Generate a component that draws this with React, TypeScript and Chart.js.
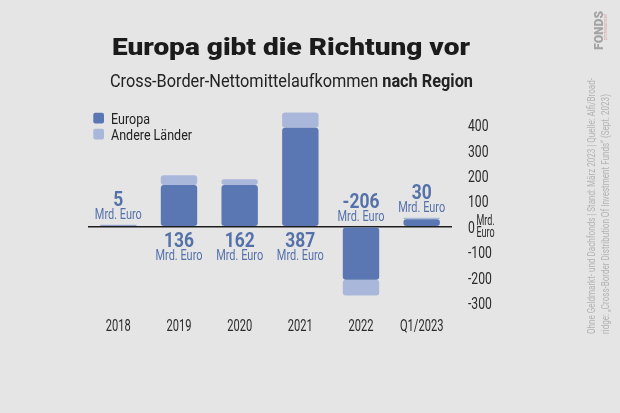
import React, { useEffect, useRef } from "react";
import { Chart, registerables } from "chart.js";

Chart.register(...registerables);

// ---- data ----
const categories = ["2018", "2019", "2020", "2021", "2022", "Q1/2023"];
const europa = [5, 165, 165, 390, -208, 30];
const andere = [3, 38, 22, 60, -62, 6];
const totalLabels = [5, 136, 162, 387, -206, 30];
const yTicks = [-300, -200, -100, 0, 100, 200, 300, 400];
const legendLabels = ["Europa", "Andere Länder"];
const titleText = "Europa gibt die Richtung vor";
const subtitleRegular = "Cross-Border-Nettomittelaufkommen ";
const subtitleBold = "nach Region";
const unitText = "Mrd. Euro";
const unitLines = ["Mrd.", "Euro"];
const sourceLines = [
  "Ohne Geldmarkt- und Dachfonds | Stand: März 2023 | Quelle: Alfi/Broad-",
  "ridge: „Cross-Border Distribution Of Investment Funds“ (Sept. 2023)",
];
const logoText = "FONDS";
const logoSub = "professionell";

// ---- styles ----
const BG = "#e5e5e5";
const C_EUROPA = "#5b77b3";
const C_ANDERE = "#a9b7db";
const C_LABEL = "#5571aa";
const C_TEXT = "#222222";
const FF = "Roboto, 'Noto Sans', sans-serif";

function drawCond(
  ctx: CanvasRenderingContext2D,
  text: string,
  x: number,
  y: number,
  font: string,
  color: string,
  sx: number,
  align: "left" | "center" | "right" = "left"
) {
  ctx.save();
  ctx.font = font;
  ctx.fillStyle = color;
  ctx.textBaseline = "alphabetic";
  ctx.textAlign = "left";
  const w = ctx.measureText(text).width * sx;
  const x0 = align === "center" ? x - w / 2 : align === "right" ? x - w : x;
  ctx.translate(x0, y);
  ctx.scale(sx, 1);
  ctx.fillText(text, 0, 0);
  ctx.restore();
  return w;
}

function fit(ctx: CanvasRenderingContext2D, ref: string, font: string, target: number) {
  ctx.save();
  ctx.font = font;
  const w = ctx.measureText(ref).width;
  ctx.restore();
  return target / w;
}

function roundRect(ctx: CanvasRenderingContext2D, x: number, y: number, w: number, h: number, r: number) {
  ctx.beginPath();
  ctx.moveTo(x + r, y);
  ctx.lineTo(x + w - r, y);
  ctx.quadraticCurveTo(x + w, y, x + w, y + r);
  ctx.lineTo(x + w, y + h - r);
  ctx.quadraticCurveTo(x + w, y + h, x + w - r, y + h);
  ctx.lineTo(x + r, y + h);
  ctx.quadraticCurveTo(x, y + h, x, y + h - r);
  ctx.lineTo(x, y + r);
  ctx.quadraticCurveTo(x, y, x + r, y);
  ctx.closePath();
}

const overlay = {
  id: "overlay",
  afterDraw(chart: any) {
    const ctx: CanvasRenderingContext2D = chart.ctx;
    const xs = chart.scales.x;
    const ys = chart.scales.y;

    // Title
    const tFont = `900 24px ${FF}`;
    drawCond(ctx, titleText, 291, 55, tFont, "#1b1b1b", fit(ctx, titleText, tFont, 358), "center");

    // Subtitle (regular + bold)
    const sFontR = `400 19px ${FF}`;
    const sFontB = `700 19px ${FF}`;
    ctx.save();
    ctx.font = sFontR;
    const wR = ctx.measureText(subtitleRegular).width;
    ctx.font = sFontB;
    const wB = ctx.measureText(subtitleBold).width;
    ctx.restore();
    const sTarget = 363;
    const ssx = sTarget / (wR + wB);
    let sx0 = 291.5 - sTarget / 2;
    sx0 += drawCond(ctx, subtitleRegular, sx0, 87, sFontR, C_TEXT, ssx);
    drawCond(ctx, subtitleBold, sx0, 87, sFontB, C_TEXT, ssx);

    // Legend
    const lFont = `400 15px ${FF}`;
    const lsx = fit(ctx, legendLabels[1], lFont, 81);
    const legendColors = [C_EUROPA, C_ANDERE];
    const legendBase = [123.5, 139.5];
    legendLabels.forEach((lab, i) => {
      ctx.save();
      ctx.fillStyle = legendColors[i];
      roundRect(ctx, 93.3, legendBase[i] - 10.8, 10.7, 10.7, 2);
      ctx.fill();
      ctx.restore();
      drawCond(ctx, lab, 111, legendBase[i], lFont, C_TEXT, lsx);
    });

    // X tick labels (positions from Chart.js category scale)
    const xFont = `400 17px ${FF}`;
    const xsx = fit(ctx, "2018", xFont, 25);
    xs.ticks.forEach((t: any, i: number) => {
      const px = xs.getPixelForTick(i);
      drawCond(ctx, String(xs.getLabelForValue(t.value)), px, 330.5, xFont, "#2a2a2a", xsx, "center");
    });

    // Y tick labels (positions from Chart.js linear scale)
    const yFont = `400 16.5px ${FF}`;
    const ysx = fit(ctx, "400", yFont, 20.5);
    const yLabelX = chart.chartArea.right + 16;
    ys.ticks.forEach((t: any) => {
      const py = ys.getPixelForValue(t.value);
      drawCond(ctx, String(t.value), yLabelX, py + 6, yFont, "#2a2a2a", ysx);
    });
    const zeroPx = ys.getPixelForValue(0);
    const uFont = `400 15px ${FF}`;
    const usx = fit(ctx, unitLines[1], uFont, 18);
    drawCond(ctx, unitLines[0], yLabelX + 8.5, zeroPx - 2.2, uFont, "#2a2a2a", usx);
    drawCond(ctx, unitLines[1], yLabelX + 8.5, zeroPx + 10.5, uFont, "#2a2a2a", usx);

    // Value labels
    const nFont = `700 21px ${FF}`;
    const nsx = fit(ctx, "136", nFont, 30);
    const mFont = `400 14.5px ${FF}`;
    const msx = fit(ctx, unitText, mFont, 47);
    categories.forEach((_, i) => {
      const px = xs.getPixelForValue(i);
      const posSum = Math.max(0, europa[i]) + Math.max(0, andere[i]);
      const topPx = ys.getPixelForValue(posSum);
      let nb: number, mb: number;
      if (posSum > 100) {
        nb = zeroPx + 20;
        mb = zeroPx + 33;
      } else {
        nb = topPx - 19;
        mb = topPx - 5.5;
      }
      drawCond(ctx, String(totalLabels[i]), px, nb, nFont, C_LABEL, nsx, "center");
      drawCond(ctx, unitText, px, mb, mFont, C_LABEL, msx, "center");
    });

    // Source text (rotated)
    const srcFont = `400 10.5px ${FF}`;
    const srcSx = fit(ctx, sourceLines[0], srcFont, 256);
    const srcX = [591, 605.5];
    sourceLines.forEach((line, i) => {
      ctx.save();
      ctx.translate(srcX[i] + 3.7, 334);
      ctx.rotate(-Math.PI / 2);
      drawCond(ctx, line, 0, 0, srcFont, "#b3b3b3", srcSx);
      ctx.restore();
    });

    // Logo
    const logoFont = `900 13px ${FF}`;
    ctx.save();
    ctx.translate(598 + 4.6, 50);
    ctx.rotate(-Math.PI / 2);
    drawCond(ctx, logoText, 0, 0, logoFont, "#a3a3a3", fit(ctx, logoText, logoFont, 39));
    ctx.restore();
    const lsFont = `italic 400 5px ${FF}`;
    ctx.save();
    ctx.translate(607, 40);
    ctx.rotate(-Math.PI / 2);
    drawCond(ctx, logoSub, 0, 0, lsFont, "#d9a3a3", fit(ctx, logoSub, lsFont, 26));
    ctx.restore();
  },
};

export default function App() {
  const ref = useRef<HTMLCanvasElement | null>(null);

  useEffect(() => {
    if (!ref.current) return;
    const radius = { topLeft: 3, topRight: 3, bottomLeft: 3, bottomRight: 3 };
    const chart = new Chart(ref.current, {
      type: "bar",
      data: {
        labels: categories,
        datasets: [
          {
            label: legendLabels[0],
            data: europa,
            backgroundColor: C_EUROPA,
            borderRadius: radius,
            borderSkipped: false,
            categoryPercentage: 1,
            barPercentage: 0.6,
          },
          {
            label: legendLabels[1],
            data: andere,
            backgroundColor: C_ANDERE,
            borderRadius: radius,
            borderSkipped: false,
            categoryPercentage: 1,
            barPercentage: 0.6,
          },
        ],
      },
      options: {
        responsive: false,
        animation: false,
        layout: { padding: { left: 88, right: 68, top: 110, bottom: 0 } },
        plugins: {
          legend: { display: false },
          title: { display: false },
          tooltip: { enabled: false },
        },
        scales: {
          x: {
            stacked: true,
            grid: { display: false },
            border: { display: false },
            ticks: { color: "rgba(0,0,0,0)", font: { size: 16 } },
            afterFit: (s: any) => {
              s.height = 110;
            },
          },
          y: {
            stacked: true,
            position: "right",
            min: -300,
            max: 460,
            grid: {
              color: (c: any) => (c.tick && c.tick.value === 0 ? "#1e1e1e" : "rgba(0,0,0,0)"),
              lineWidth: 1.6,
              drawTicks: false,
            },
            border: { display: false },
            ticks: { color: "rgba(0,0,0,0)", padding: 16 },
            afterBuildTicks: (s: any) => {
              s.ticks = yTicks.map((v) => ({ value: v }));
            },
            afterFit: (s: any) => {
              s.width = 100;
            },
          },
        },
      },
      plugins: [overlay],
    } as any);
    return () => chart.destroy();
  }, []);

  return (
    <div style={{ position: "absolute", left: 0, top: 0, width: 620, height: 413, background: BG }}>
      <canvas ref={ref} width={620} height={413} style={{ display: "block", width: 620, height: 413 }} />
    </div>
  );
}
